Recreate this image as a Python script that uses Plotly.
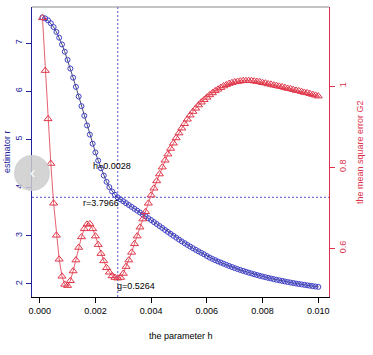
import plotly.graph_objects as go

# ---- data ----
h_values = [
    0.0001, 0.0002, 0.0003, 0.0004, 0.0005, 0.0006, 0.0007, 0.0008, 0.0009, 0.0010,
    0.0011, 0.0012, 0.0013, 0.0014, 0.0015, 0.0016, 0.0017, 0.0018, 0.0019, 0.0020,
    0.0021, 0.0022, 0.0023, 0.0024, 0.0025, 0.0026, 0.0027, 0.0028, 0.0029, 0.0030,
    0.0031, 0.0032, 0.0033, 0.0034, 0.0035, 0.0036, 0.0037, 0.0038, 0.0039, 0.0040,
    0.0041, 0.0042, 0.0043, 0.0044, 0.0045, 0.0046, 0.0047, 0.0048, 0.0049, 0.0050,
    0.0051, 0.0052, 0.0053, 0.0054, 0.0055, 0.0056, 0.0057, 0.0058, 0.0059, 0.0060,
    0.0061, 0.0062, 0.0063, 0.0064, 0.0065, 0.0066, 0.0067, 0.0068, 0.0069, 0.0070,
    0.0071, 0.0072, 0.0073, 0.0074, 0.0075, 0.0076, 0.0077, 0.0078, 0.0079, 0.0080,
    0.0081, 0.0082, 0.0083, 0.0084, 0.0085, 0.0086, 0.0087, 0.0088, 0.0089, 0.0090,
    0.0091, 0.0092, 0.0093, 0.0094, 0.0095, 0.0096, 0.0097, 0.0098, 0.0099, 0.0100,
]

r_estimator = [
    7.53, 7.51, 7.47, 7.41, 7.33, 7.23, 7.11, 6.97, 6.82, 6.65,
    6.47, 6.28, 6.09, 5.89, 5.69, 5.49, 5.29, 5.10, 4.91, 4.73,
    4.56, 4.40, 4.25, 4.12, 4.01, 3.92, 3.85, 3.7966, 3.755, 3.716,
    3.677, 3.638, 3.599, 3.560, 3.521, 3.482, 3.443, 3.404, 3.365, 3.326,
    3.285, 3.244, 3.203, 3.162, 3.121, 3.080, 3.040, 3.000, 2.961, 2.922,
    2.884, 2.847, 2.811, 2.776, 2.742, 2.709, 2.677, 2.646, 2.616, 2.580,
    2.548, 2.520, 2.494, 2.468, 2.444, 2.420, 2.397, 2.374, 2.352, 2.330,
    2.310, 2.291, 2.272, 2.254, 2.236, 2.219, 2.202, 2.186, 2.170, 2.155,
    2.141, 2.127, 2.114, 2.101, 2.088, 2.076, 2.064, 2.052, 2.041, 2.030,
    2.020, 2.010, 2.000, 1.991, 1.982, 1.973, 1.964, 1.956, 1.948, 1.940,
]

g2_error = [
    1.168, 1.038, 0.919, 0.809, 0.711, 0.632, 0.573, 0.531, 0.511, 0.508,
    0.520, 0.544, 0.571, 0.602, 0.628, 0.648, 0.659, 0.660, 0.648, 0.630,
    0.609, 0.587, 0.569, 0.552, 0.541, 0.532, 0.528, 0.5264, 0.528, 0.538,
    0.555, 0.571, 0.590, 0.611, 0.630, 0.652, 0.672, 0.690, 0.711, 0.731,
    0.748, 0.766, 0.783, 0.800, 0.817, 0.832, 0.846, 0.859, 0.872, 0.884,
    0.896, 0.907, 0.918, 0.928, 0.937, 0.945, 0.953, 0.960, 0.966, 0.972,
    0.978, 0.983, 0.988, 0.992, 0.996, 1.000, 1.003, 1.006, 1.008, 1.010,
    1.011, 1.012, 1.013, 1.013, 1.013, 1.013, 1.012, 1.011, 1.010, 1.008,
    1.007, 1.005, 1.004, 1.002, 1.001, 0.999, 0.998, 0.996, 0.994, 0.993,
    0.991, 0.989, 0.988, 0.986, 0.984, 0.983, 0.981, 0.979, 0.977, 0.975,
]

h_opt = 0.0028
r_opt = 3.7966
g_opt = 0.5264

x_ticks = [0.000, 0.002, 0.004, 0.006, 0.008, 0.010]
x_ticklabels = ["0.000", "0.002", "0.004", "0.006", "0.008", "0.010"]
y_ticks = [2, 3, 4, 5, 6, 7]
y2_ticks = [0.6, 0.8, 1.0]
y2_ticklabels = ["0.6", "0.8", "1"]

# ---- styles ----
FONT = "Liberation Sans, Arial, Helvetica, sans-serif"
BLUE_MARK = "#4040c8"
BLUE_AXIS = "#22229a"
RED_MARK = "#e0374a"
RED_AXIS = "#e0304a"
DOT = "#7373d8"

fig = go.Figure()

fig.add_trace(go.Scatter(
    x=h_values, y=r_estimator, mode="lines+markers",
    line=dict(color="#1d1d50", width=0.8),
    marker=dict(symbol="circle-open", size=5, color=BLUE_MARK, line=dict(width=1)),
    yaxis="y", showlegend=False, hoverinfo="skip",
))

fig.add_trace(go.Scatter(
    x=h_values, y=g2_error, mode="lines+markers",
    line=dict(color=RED_MARK, width=0.8),
    marker=dict(symbol="triangle-up-open", size=7, color=RED_MARK, line=dict(width=1)),
    yaxis="y2", showlegend=False, hoverinfo="skip",
))

fig.update_layout(
    width=373, height=355,
    margin=dict(l=32, r=44, t=7, b=58, autoexpand=False),
    paper_bgcolor="white", plot_bgcolor="white",
    font=dict(family=FONT, size=9, color="black"),
    xaxis=dict(
        range=[-0.000276, 0.010384], tickvals=x_ticks, ticktext=x_ticklabels,
        showgrid=False, zeroline=False, showline=True, linecolor="black", linewidth=1,
        ticks="outside", ticklen=5, tickcolor="black", automargin=False,
        tickfont=dict(size=9, color="black"),
    ),
    yaxis=dict(
        range=[1.730, 7.747], tickvals=y_ticks, automargin=False,
        showgrid=False, zeroline=False, showline=True, linecolor=BLUE_AXIS, linewidth=1,
        ticks="outside", ticklen=5, tickcolor=BLUE_AXIS, tickangle=-90,
        tickfont=dict(size=9, color=BLUE_AXIS),
    ),
    yaxis2=dict(
        range=[0.480, 1.1947], tickvals=y2_ticks, ticktext=y2_ticklabels,
        overlaying="y", side="right", automargin=False,
        showgrid=False, zeroline=False, showline=True, linecolor=RED_AXIS, linewidth=1,
        ticks="outside", ticklen=5, tickcolor=RED_AXIS, tickangle=-90,
        tickfont=dict(size=9, color=RED_AXIS),
    ),
    shapes=[
        dict(type="line", xref="paper", yref="paper", x0=0, x1=1, y0=1, y1=1,
             line=dict(color="#8a8a8a", width=1), layer="below"),
        dict(type="line", xref="x", yref="paper", x0=h_opt, x1=h_opt, y0=0, y1=1,
             line=dict(color=DOT, width=1.2, dash="2px,2px"), layer="below"),
        dict(type="line", xref="paper", yref="y", x0=0, x1=1, y0=r_opt, y1=r_opt,
             line=dict(color=DOT, width=1.2, dash="2px,2px"), layer="below"),
        dict(type="circle", xref="paper", yref="paper",
             x0=-0.0606, x1=0.0606, y0=0.3655, y1=0.4897,
             fillcolor="rgba(205,205,205,0.85)", line=dict(width=0), layer="above"),
    ],
    annotations=[
        dict(text="h=0.0028", x=h_opt, y=r_opt, xref="x", yref="y",
             xanchor="center", yanchor="middle",
             xshift=-6, yshift=31, showarrow=False, font=dict(size=9, color="black")),
        dict(text="r=3.7966", x=h_opt, y=r_opt, xref="x", yref="y",
             xanchor="center", yanchor="middle",
             xshift=-17, yshift=-6, showarrow=False, font=dict(size=9, color="black")),
        dict(text="g=0.5264", x=h_opt, y=g_opt, xref="x", yref="y2",
             xanchor="center", yanchor="middle",
             xshift=18, yshift=-8, showarrow=False, font=dict(size=9, color="black")),
        dict(text="the parameter h", xref="paper", yref="paper", x=0.5, y=0,
             xanchor="center", yanchor="middle",
             yshift=-39, showarrow=False, font=dict(size=9, color="black")),
        dict(text="estimator r", xref="paper", yref="paper", x=0, y=0.5,
             xanchor="center", yanchor="middle",
             xshift=-25, textangle=-90, showarrow=False, font=dict(size=9, color=BLUE_AXIS)),
        dict(text="the mean square error G2", xref="paper", yref="paper", x=1, y=0.5,
             xanchor="center", yanchor="middle",
             xshift=31, textangle=-90, showarrow=False, font=dict(size=9, color=RED_AXIS)),
        dict(text="‹", xref="paper", yref="paper", x=0, y=0.4276,
             xanchor="center", yanchor="middle",
             showarrow=False, font=dict(size=16, color="white")),
    ],
)

fig.write_html(
    "out.html",
    config={"displayModeBar": False},
    post_script="document.body.style.margin='0';document.body.style.overflow='hidden';",
)
